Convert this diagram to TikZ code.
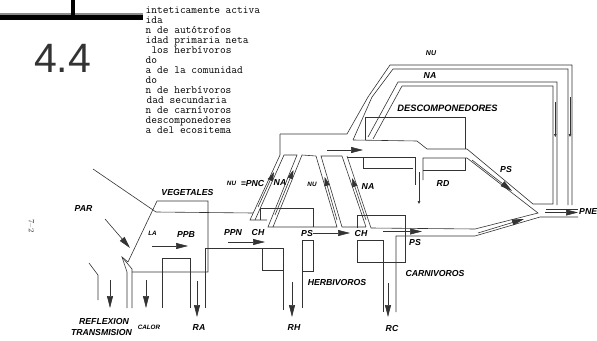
\documentclass[tikz,border=0pt]{standalone}
\usepackage{fontspec}
\setsansfont{Liberation Sans}
\usetikzlibrary{arrows.meta}
\tikzset{
 ln/.style={draw=black!80, line width=0.6pt},
 arr/.style={ln, -{Triangle[length=12pt,width=6pt]}},
 barr/.style={ln, -{Triangle[length=9pt,width=5.5pt]}},
 tarr/.style={ln, -{Triangle[length=3pt,width=2.6pt]}},
 lbl/.style={font=\sffamily\bfseries\itshape\fontsize{8.7}{10}\selectfont, inner sep=0pt},
 slbl/.style={font=\sffamily\bfseries\itshape\fontsize{6.3}{7}\selectfont, inner sep=0pt},
 mono/.style={font=\ttfamily\fontsize{11.1}{12}\selectfont, anchor=base west, inner sep=0pt},
}
\begin{document}
\begin{tikzpicture}[x=1pt,y=-1pt]
\useasboundingbox (0,0) rectangle (597,340);

% header
\fill[black!45] (0,12.5) rectangle (143,15);
\fill[black] (0,15) rectangle (143,19.5);
\fill[black] (70.5,0) rectangle (75,15);
\node[anchor=base west, inner sep=0pt, font=\sffamily\fontsize{41}{41}\selectfont, text=black!80] (num) at (34,72) {4.4};

\node[mono] (t1) at (145.5,13.7) {inteticamente activa};
\node[mono] (t2) at (145.5,23.7) {ida};
\node[mono] (t3) at (145.5,33.6) {n de autótrofos};
\node[mono] (t4) at (145.5,43.6) {idad primaria neta};
\node[mono] (t5) at (151.3,53.6) {los herbívoros};
\node[mono] (t6) at (145.5,63.6) {do};
\node[mono] (t7) at (145.5,73.5) {a de la comunidad};
\node[mono] (t8) at (145.5,83.5) {do};
\node[mono] (t9) at (145.5,93.5) {n de herbívoros};
\node[mono] (t10) at (146.5,103.4) {dad secundaria};
\node[mono] (t11) at (145.5,113.4) {n de carnívoros};
\node[mono] (t12) at (145.5,123.4) {descomponedores};
\node[mono] (t13) at (145.5,133.3) {a del ecositema};

% vegetales
\draw[ln] (93,169) -- (156,212) -- (253,213);
\draw[ln] (128,262) -- (157,201) -- (208,201) -- (208,272) -- (132,272);
\draw[ln] (128,262) -- (122,257) -- (127,272) -- (127,308);
\draw[ln] (122,257) -- (132,269) -- (132,308);
\draw[ln] (89,263) -- (98,275) -- (98,300);
\draw[ln] (162,308) -- (162,258) -- (190,258) -- (190,308);
\draw[ln] (205,308) -- (205,248) -- (283,248) -- (283,310);
\draw[ln] (262,248) -- (262,270) -- (283,270);
\draw[ln] (302,308) -- (302,240) -- (313,240) -- (313,271) -- (302,271);

% bands and channel
\draw[ln] (280,134) -- (347,134) -- (368,97) -- (390,65) -- (572,65) -- (572,205);
\draw[ln] (280,134) -- (280,155) -- (250,220) -- (267,220);
\draw[ln] (284,155) -- (255,220);
\draw[ln] (260,220) -- (260,208) -- (313,208) -- (313,227);
\draw[ln] (284,155) -- (297,155) -- (268,227) -- (337,227) -- (316,156) -- (302,155) -- (273,227);
\draw[ln] (366,227) -- (342,227) -- (321,156) -- (342,156) -- (366,227);
\draw[ln] (347,156) -- (371,228) -- (475,229) -- (538,213) -- (467,158) -- (423,158) -- (423,180);
\draw[ln] (347,157) -- (415,157) -- (415,185);
\draw[ln] (363,157) -- (363,168) -- (413,168);
\draw[ln] (423,170) -- (465,170) -- (465,158);
\draw[ln] (353,140) -- (372,97) -- (393,69) -- (568,69) -- (568,205);
\draw[ln] (353,140) -- (417,141) -- (427,149) -- (467,149) -- (533,204) -- (553,204) -- (553,86) -- (402,86) -- (373,139);
\draw[ln] (368,137) -- (398,82) -- (557,82) -- (557,205);
\draw[ln] (365,140) -- (365,117) -- (465,117) -- (465,149);

% carnivoros
\draw[ln] (357,228) -- (357,215) -- (405,215) -- (405,262) -- (357,262) -- (357,240) -- (383,240) -- (383,312);
\draw[ln] (396,312) -- (396,236) -- (475,236) -- (540,217) -- (578,217);
\draw[ln] (546,209) -- (578,209);

% arrows
\draw[arr] (152,246) -- (188,246);
\draw[arr] (228,242) -- (265,242);
\draw[arr] (313,233) -- (350,233);
\draw[arr] (383,231.5) -- (422,231.5);
\draw[arr] (327,150) -- (363,150);
\draw[arr] (105,219) -- (130,248);
\draw[arr] (110,280) -- (110,308);
\draw[arr] (146,280) -- (146,308);
\draw[arr] (197,281) -- (197,317);
\draw[arr] (292,282) -- (292,317);
\draw[arr] (388,283) -- (388,317);
\draw[arr] (472,160) -- (512,191);
\draw[arr] (478,233) -- (524,219);
\draw[arr] (545,212.5) -- (578,212.5);
\draw[barr] (258,207) -- (274,172);
\draw[barr] (275,215) -- (293.5,170);
\draw[barr] (337,220) -- (324.7,177);
\draw[barr] (366,220) -- (352,178);
\draw[tarr] (419,172) -- (419,204);
\draw[tarr] (555.3,102) -- (555.3,137);
\draw[tarr] (570,97) -- (570,137);

% labels
\node[lbl] (par) at (83.5,209) {PAR};
\node[lbl] (veg) at (187.5,193) {VEGETALES};
\node[slbl] (la) at (152.5,233) {LA};
\node[lbl] (ppb) at (186,235) {PPB};
\node[lbl] (ppn) at (233,233) {PPN};
\node[lbl] (ch1) at (258,233) {CH};
\node[slbl] (nu1) at (231.5,183) {NU};
\node[lbl] (pnc) at (252.5,183.5) {=PNC};
\node[lbl] (na1) at (280,182.5) {NA};
\node[slbl] (nu2) at (312,184) {NU};
\node[lbl] (na2) at (368,187) {NA};
\node[lbl] (ps1) at (307,234) {PS};
\node[lbl] (ch2) at (361,234) {CH};
\node[lbl] (herb) at (337,283) {HERBIVOROS};
\node[lbl] (carn) at (435,274) {CARNIVOROS};
\node[lbl] (ps2) at (415,243) {PS};
\node[lbl] (rd) at (443,184) {RD};
\node[lbl] (ps3) at (506,170) {PS};
\node[lbl, anchor=west] (pne) at (579,212) {PNE};
\node[lbl, font=\sffamily\bfseries\itshape\fontsize{9.3}{10}\selectfont] (desc) at (447.5,108) {DESCOMPONEDORES};
\node[slbl, font=\sffamily\bfseries\itshape\fontsize{7}{8}\selectfont] (nu3) at (431,53) {NU};
\node[lbl] (na3) at (430,76) {NA};
\node[lbl] (refl) at (104,322) {REFLEXION};
\node[lbl] (trans) at (101.5,333) {TRANSMISION};
\node[slbl] (calor) at (149,327) {CALOR};
\node[lbl] (ra) at (199,328) {RA};
\node[lbl] (rh) at (294,328) {RH};
\node[lbl] (rc) at (392,329) {RC};
\node[inner sep=0pt, rotate=-90, font=\fontsize{8}{9}\selectfont, text=black!80] (pg) at (31.5,226) {7--2};
\end{tikzpicture}
\end{document}
